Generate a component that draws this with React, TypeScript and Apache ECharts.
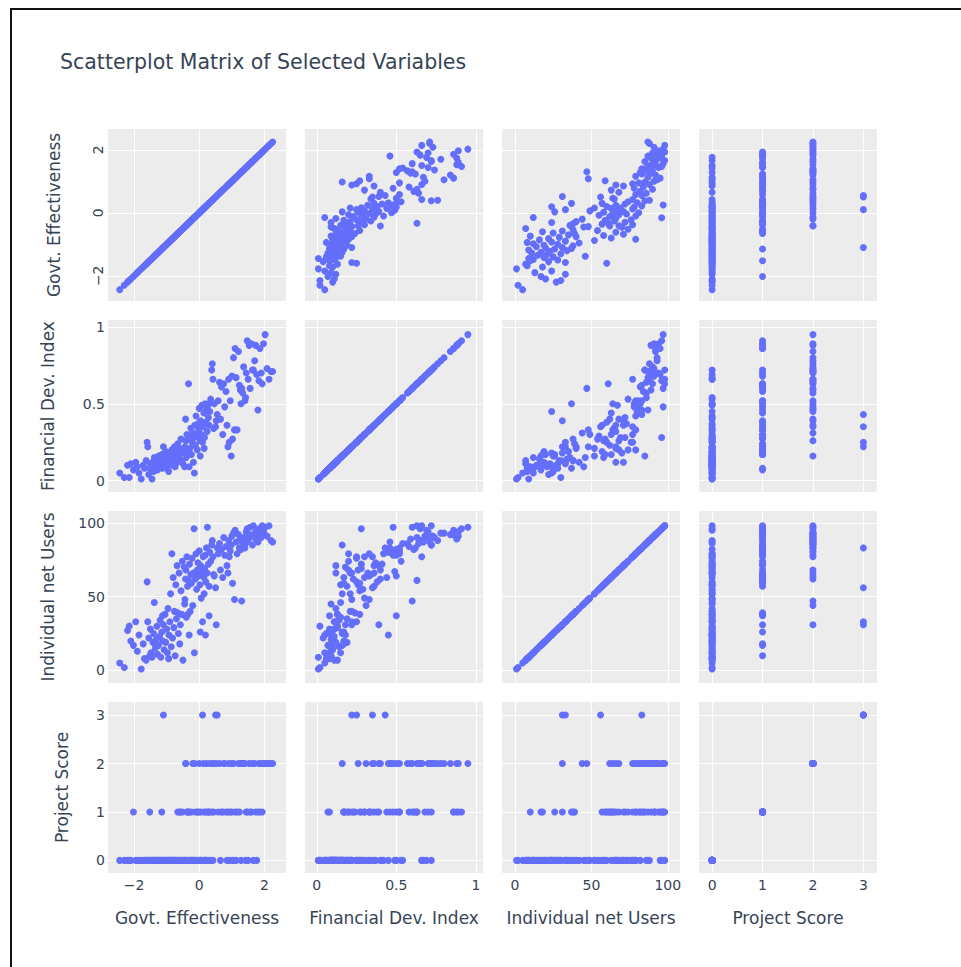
import React, { useEffect, useRef } from "react";
import * as echarts from "echarts";

// ---- data (one entry per observation, same order in every array) ----
const govtEffectiveness = [
  -2.44, -2.30, -2.20, -2.15, -2.10, -2.02, -1.95, -1.90, -1.85, -1.78,
  -1.72, -1.68, -1.63, -1.60, -1.58, -1.55, -1.52, -1.50, -1.48, -1.45,
  -1.42, -1.40, -1.38, -1.35, -1.32, -1.30, -1.28, -1.25, -1.22, -1.20,
  -1.18, -1.15, -1.13, -1.12, -1.10, -1.08, -1.05, -1.03, -1.00, -0.98,
  -0.96, -0.94, -0.93, -0.90, -0.88, -0.86, -0.84, -0.82, -0.80, -0.78,
  -0.76, -0.74, -0.72, -0.70, -0.68, -0.66, -0.64, -0.62, -0.60, -0.58,
  -0.56, -0.54, -0.52, -0.50, -0.42, -0.46, -0.44, -0.41, -0.40, -0.38,
  -0.36, -0.33, -0.31, -0.30, -0.28, -0.26, -0.24, -0.22, -0.20, -0.18,
  -0.16, -0.14, -0.12, -0.10, -0.08, -0.06, -0.04, -0.02, 0.00, 0.02,
  0.04, 0.06, 0.08, 0.10, 0.12, 0.14, 0.16, 0.18, 0.20, 0.22,
  0.24, 0.25, 0.28, 0.30, 0.32, 0.35, 0.38, 0.40, 0.42, 0.44,
  0.46, 0.50, 0.55, -0.45, 0.03, -0.35, 0.15, 0.19, 0.52, 0.30,
  0.58, 0.62, 0.65, 0.68, 0.72, 0.75, 0.78, 0.82, 0.85, 0.88,
  0.90, 0.92, 0.95, 0.98, 1.00, 1.02, 1.05, 1.08, 1.10, 1.13,
  1.16, 1.20, 1.23, 1.26, 1.30, 1.33, 1.36, 1.40, 1.44, 1.47,
  1.50, 1.53, 1.56, 1.60, 1.63, 1.66, 1.70, 1.73, 1.76, 1.80,
  1.83, 1.86, 1.90, 1.93, 1.97, 2.02, 2.08, 2.14, 2.20, 2.25,
  -0.15, 1.28, 1.42,
];

const financialDevIndex = [
  0.05, 0.02, 0.10, 0.02, 0.11, 0.07, 0.12, 0.09, 0.05, 0.01,
  0.10, 0.08, 0.13, 0.25, 0.22, 0.04, 0.08, 0.11, 0.08, 0.01,
  0.12, 0.06, 0.15, 0.10, 0.09, 0.13, 0.07, 0.16, 0.11, 0.14,
  0.09, 0.17, 0.08, 0.17, 0.22, 0.10, 0.13, 0.19, 0.08, 0.15,
  0.12, 0.06, 0.18, 0.11, 0.16, 0.14, 0.20, 0.10, 0.17, 0.13,
  0.22, 0.09, 0.15, 0.19, 0.12, 0.24, 0.16, 0.21, 0.17, 0.18,
  0.27, 0.13, 0.20, 0.11, 0.40, 0.18, 0.22, 0.26, 0.15, 0.30,
  0.19, 0.63, 0.09, 0.28, 0.21, 0.34, 0.17, 0.25, 0.31, 0.12,
  0.28, 0.36, 0.23, 0.42, 0.29, 0.20, 0.37, 0.33, 0.47, 0.26,
  0.39, 0.30, 0.49, 0.25, 0.35, 0.44, 0.28, 0.50, 0.38, 0.46,
  0.32, 0.48, 0.41, 0.36, 0.45, 0.53, 0.72, 0.76, 0.66, 0.34,
  0.50, 0.35, 0.43, 0.09, 0.16, 0.27, 0.21, 0.45, 0.39, 0.50,
  0.52, 0.64, 0.40, 0.61, 0.30, 0.63, 0.48, 0.58, 0.36, 0.22,
  0.66, 0.25, 0.52, 0.16, 0.68, 0.27, 0.80, 0.33, 0.86, 0.67,
  0.33, 0.84, 0.62, 0.59, 0.60, 0.57, 0.74, 0.52, 0.70, 0.91,
  0.66, 0.88, 0.60, 0.89, 0.72, 0.72, 0.78, 0.88, 0.69, 0.46,
  0.65, 0.86, 0.70, 0.63, 0.89, 0.95, 0.73, 0.66, 0.71, 0.71,
  0.05, 0.50, 0.54,
];

const individualNetUsers = [
  5, 2, 27, 30, 20, 17, 33, 13, 24, 1,
  18, 8, 7, 60, 33, 22, 10, 28, 12, 9,
  19, 25, 46, 15, 21, 30, 11, 17, 23, 34,
  9, 26, 37, 20, 31, 14, 38, 19, 28, 12,
  42, 8, 24, 33, 52, 16, 79, 22, 63, 29,
  40, 10, 58, 35, 71, 39, 25, 66, 18, 31,
  54, 38, 74, 7, 62, 70, 48, 68, 36, 77,
  57, 61, 24, 72, 40, 65, 59, 76, 44, 66,
  96, 66, 62, 79, 55, 68, 73, 64, 81, 58,
  71, 49, 67, 33, 77, 63, 69, 78, 60, 83,
  66, 97, 72, 57, 80, 74, 85, 88, 77, 65,
  64, 56, 83, 45, 26, 38, 52, 24, 31, 37,
  79, 86, 68, 82, 63, 90, 78, 84, 71, 66,
  88, 77, 81, 85, 91, 59, 93, 48, 95, 87,
  79, 92, 83, 89, 47, 86, 90, 83, 94, 96,
  88, 92, 97, 91, 85, 98, 93, 89, 95, 87,
  96, 92, 90, 98, 94, 97, 91, 98, 88, 87,
  12, 82, 86,
];

const projectScore = [
  0, 0, 0, 0, 0, 1, 0, 0, 0, 0,
  0, 0, 0, 0, 0, 0, 1, 0, 0, 0,
  0, 0, 0, 0, 0, 0, 0, 0, 0, 0,
  0, 1, 0, 0, 3, 0, 0, 0, 0, 0,
  0, 0, 0, 0, 0, 0, 0, 0, 0, 0,
  0, 0, 0, 0, 0, 1, 0, 0, 1, 1,
  0, 0, 1, 0, 2, 0, 0, 2, 0, 1,
  0, 1, 0, 1, 0, 0, 1, 0, 2, 0,
  0, 2, 1, 0, 0, 1, 0, 1, 2, 0,
  1, 0, 0, 3, 2, 1, 0, 0, 1, 2,
  0, 1, 0, 1, 2, 0, 1, 2, 0, 1,
  2, 3, 3, 0, 0, 1, 0, 0, 2, 1,
  1, 2, 0, 1, 1, 2, 2, 1, 0, 1,
  2, 0, 1, 2, 1, 0, 2, 0, 1, 0,
  1, 2, 1, 2, 2, 2, 2, 2, 1, 1,
  0, 2, 1, 1, 2, 0, 2, 1, 0, 1,
  2, 1, 2, 1, 2, 2, 2, 2, 2, 2,
  0, 0, 0,
];

const variableNames = [
  "Govt. Effectiveness",
  "Financial Dev. Index",
  "Individual net Users",
  "Project Score",
];
const variables = [govtEffectiveness, financialDevIndex, individualNetUsers, projectScore];
const tickSteps = [2, 0.5, 50, 1];
const axisMin = [-2.8, -0.074, -8.5, -0.26];
const axisMax = [2.66, 1.045, 108, 3.27];

// ---- layout / style ----
const COL_LEFT = [108, 305, 502, 699];
const ROW_TOP = [129, 320, 511, 702];
const CELL_W = 178;
const CELL_H = 172;
const Y_NAME_GAP = [46, 52, 52, 38];
const FONT = "'DejaVu Sans', Verdana, sans-serif";
const TEXT = "#364456";
const PANEL_BG = "#ececec";
const MARKER = "#636efa";

function tickFormatter(step: number) {
  return (v: number) => {
    const k = v / step;
    if (Math.abs(k - Math.round(k)) > 1e-6) return "";
    const s = String(parseFloat(v.toFixed(3)));
    return s.replace("-", "\u2212");
  };
}

function buildOption() {
  const grid: any[] = [];
  const xAxis: any[] = [];
  const yAxis: any[] = [];
  const series: any[] = [];

  for (let r = 0; r < 4; r++) {
    for (let c = 0; c < 4; c++) {
      const idx = r * 4 + c;
      grid.push({
        left: COL_LEFT[c],
        top: ROW_TOP[r],
        width: CELL_W,
        height: r === 3 ? CELL_H - 1 : CELL_H,
        containLabel: false,
        outerBoundsMode: "none",
        show: true,
        backgroundColor: PANEL_BG,
        borderWidth: 0,
      });
      xAxis.push({
        type: "value",
        gridIndex: idx,
        min: axisMin[c],
        max: axisMax[c],
        minInterval: tickSteps[c],
        maxInterval: tickSteps[c],
        splitNumber: 3,
        axisLine: { show: false },
        axisTick: { show: false },
        splitLine: {
          show: true,
          showMinLine: false,
          showMaxLine: false,
          lineStyle: { color: "#ffffff", width: 1 },
        },
        axisLabel: {
          show: r === 3,
          margin: 5,
          fontSize: 14,
          fontFamily: FONT,
          color: TEXT,
          formatter: tickFormatter(tickSteps[c]),
        },
        name: r === 3 ? variableNames[c] : "",
        nameLocation: "middle",
        nameGap: 36,
        nameTextStyle: { fontSize: 17, fontFamily: FONT, color: TEXT },
      });
      yAxis.push({
        type: "value",
        gridIndex: idx,
        min: axisMin[r],
        max: axisMax[r],
        minInterval: tickSteps[r],
        maxInterval: tickSteps[r],
        splitNumber: 3,
        axisLine: { show: false },
        axisTick: { show: false },
        splitLine: {
          show: true,
          showMinLine: false,
          showMaxLine: false,
          lineStyle: { color: "#ffffff", width: 1 },
        },
        axisLabel: {
          show: c === 0,
          margin: 3,
          rotate: r === 0 ? 90 : 0,
          fontSize: 14,
          fontFamily: FONT,
          color: TEXT,
          formatter: tickFormatter(tickSteps[r]),
        },
        name: c === 0 ? variableNames[r] : "",
        nameLocation: "middle",
        nameGap: Y_NAME_GAP[r],
        nameTextStyle: { fontSize: 17, fontFamily: FONT, color: TEXT },
      });
      const xs = variables[c];
      const ys = variables[r];
      series.push({
        type: "scatter",
        xAxisIndex: idx,
        yAxisIndex: idx,
        symbol: "circle",
        symbolSize: 7,
        itemStyle: { color: MARKER, opacity: 1 },
        data: xs.map((x, i) => [x, ys[i]]),
      });
    }
  }

  return {
    animation: false,
    backgroundColor: "#ffffff",
    title: {
      text: "Scatterplot Matrix of Selected Variables",
      left: 60,
      top: 51,
      padding: 0,
      textStyle: { fontSize: 20.5, fontWeight: "normal", fontFamily: FONT, color: TEXT },
    },
    grid,
    xAxis,
    yAxis,
    series,
  };
}

export default function App() {
  const ref = useRef<HTMLDivElement>(null);
  useEffect(() => {
    if (!ref.current) return;
    const chart = echarts.init(ref.current, undefined, { renderer: "svg" });
    chart.setOption(buildOption() as any);
    return () => chart.dispose();
  }, []);
  return (
    <div style={{ position: "fixed", left: 0, top: 0, width: 961, height: 967, background: "#fff" }}>
      <div ref={ref} style={{ position: "absolute", left: 0, top: 0, width: 961, height: 967 }} />
      <div style={{ position: "absolute", left: 10, top: 8, width: 951, height: 2, background: "#111" }} />
      <div style={{ position: "absolute", left: 10, top: 8, width: 2, height: 959, background: "#111" }} />
    </div>
  );
}
